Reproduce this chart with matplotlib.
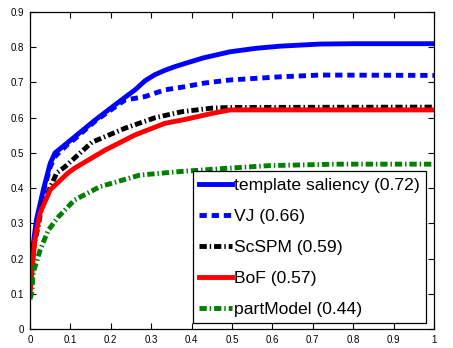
import matplotlib
matplotlib.use("Agg")
import matplotlib.pyplot as plt

plt.rcParams['font.family'] = ['Liberation Sans', 'DejaVu Sans']

labels = ["template saliency (0.72)", "VJ (0.66)", "ScSPM (0.59)", "BoF (0.57)", "partModel (0.44)"]

ts_x = [0.0, 0.008, 0.016, 0.033, 0.05, 0.062, 0.094, 0.111, 0.161, 0.21, 0.26, 0.285, 0.309, 0.335, 0.359, 0.384, 0.43, 0.495, 0.56, 0.619, 0.718, 0.8, 1.0]
ts_y = [0.15, 0.24, 0.31, 0.395, 0.47, 0.50, 0.53, 0.546, 0.593, 0.636, 0.679, 0.705, 0.722, 0.735, 0.745, 0.754, 0.77, 0.787, 0.797, 0.803, 0.809, 0.81, 0.81]

vj_x = [0.0, 0.008, 0.016, 0.033, 0.05, 0.062, 0.094, 0.111, 0.161, 0.21, 0.235, 0.285, 0.334, 0.384, 0.43, 0.495, 0.619, 0.718, 1.0]
vj_y = [0.15, 0.22, 0.30, 0.39, 0.46, 0.49, 0.525, 0.54, 0.59, 0.63, 0.65, 0.66, 0.679, 0.688, 0.698, 0.707, 0.716, 0.721, 0.72]

sc_x = [0.0, 0.01, 0.02, 0.029, 0.066, 0.087, 0.153, 0.235, 0.31, 0.376, 0.45, 0.495, 1.0]
sc_y = [0.14, 0.24, 0.29, 0.347, 0.443, 0.461, 0.53, 0.57, 0.60, 0.617, 0.627, 0.629, 0.63]

bof_x = [0.0, 0.004, 0.012, 0.025, 0.05, 0.094, 0.111, 0.186, 0.26, 0.334, 0.384, 0.45, 0.495, 1.0]
bof_y = [0.10, 0.15, 0.253, 0.33, 0.395, 0.443, 0.457, 0.508, 0.551, 0.584, 0.595, 0.612, 0.622, 0.622]

pm_x = [0.0, 0.004, 0.008, 0.025, 0.045, 0.07, 0.11, 0.173, 0.272, 0.371, 0.47, 0.594, 0.76, 1.0]
pm_y = [0.085, 0.10, 0.16, 0.224, 0.28, 0.318, 0.366, 0.404, 0.437, 0.447, 0.455, 0.464, 0.468, 0.468]

xticks = [0, 0.1, 0.2, 0.3, 0.4, 0.5, 0.6, 0.7, 0.8, 0.9, 1]
xticklabels = ["0", "0.1", "0.2", "0.3", "0.4", "0.5", "0.6", "0.7", "0.8", "0.9", "1"]
yticks = [0, 0.1, 0.2, 0.3, 0.4, 0.5, 0.6, 0.7, 0.8, 0.9]
yticklabels = ["0", "0.1", "0.2", "0.3", "0.4", "0.5", "0.6", "0.7", "0.8", "0.9"]

fig = plt.figure(figsize=(4.53, 3.48), dpi=100)
ax = fig.add_axes([30/453, 1 - 329/348, 404/453, 317/348])

lw = 3.5
ax.plot(ts_x, ts_y, color='#0000ff', lw=lw, linestyle='-', label=labels[0])
ax.plot(vj_x, vj_y, color='#0000ff', lw=lw, linestyle=(0, (1.5, 1.0)), label=labels[1])
ax.plot(sc_x, sc_y, color='black', lw=lw, linestyle=(0, (1.5, 0.6, 0.3, 0.6)), label=labels[2])
ax.plot(bof_x, bof_y, color='#ff0000', lw=lw, linestyle='-', label=labels[3])
ax.plot(pm_x, pm_y, color='#007f00', lw=lw, linestyle=(0, (1.5, 0.6, 0.3, 0.6)), label=labels[4])

ax.set_xlim(0, 1)
ax.set_ylim(0, 0.9)
ax.set_xticks(xticks)
ax.set_xticklabels(xticklabels)
ax.set_yticks(yticks)
ax.set_yticklabels(yticklabels)
ax.tick_params(direction='in', top=True, right=True, length=4, width=0.8, labelsize=7, pad=4)
for s in ax.spines.values():
    s.set_linewidth(0.9)

leg = ax.legend(loc='lower left', bbox_to_anchor=(0.403, 0.019), borderaxespad=0,
                fontsize=12.6, labelspacing=0.9, handlelength=1.9, handletextpad=0.1,
                borderpad=0.35, fancybox=False, framealpha=1, edgecolor='black')
leg.get_frame().set_linewidth(0.9)

fig.savefig("out.png", dpi=100)
